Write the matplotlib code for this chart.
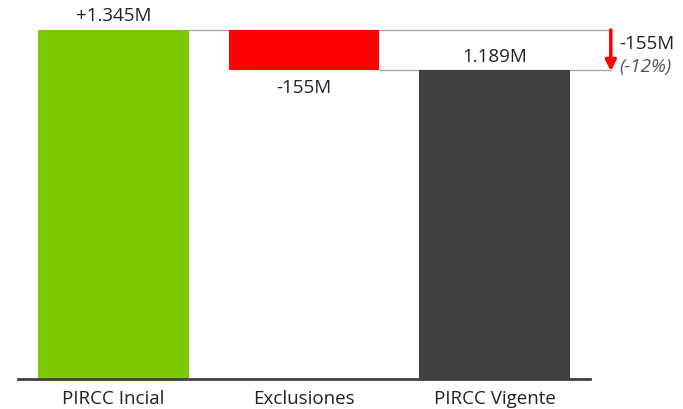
import matplotlib.pyplot as plt

# Data
categories = ["PIRCC Incial", "Exclusiones", "PIRCC Vigente"]
start_value = 1345
change = -155
end_value = 1189
top_labels = ["+1.345M", "-155M", "1.189M"]
delta_label = "-155M"
pct_label = "(-12%)"

plt.rcParams['font.family'] = ['Open Sans', 'DejaVu Sans']

fig = plt.figure(figsize=(6.83, 4.1), dpi=100)
ax = fig.add_axes([0, 0, 1, 1])
ax.set_xlim(-0.596, 2.989)
ax.set_ylim(-115.6, 1464.4)
ax.axis("off")

w = 0.79
ax.bar(0, start_value, width=w, color="#7DC900", zorder=2)
ax.bar(1, change, bottom=start_value, width=w, color="#FF0000", zorder=2)
ax.bar(2, end_value, width=w, color="#404040", zorder=2)

# connectors
ax.plot([0 + w / 2, 2.61], [start_value, start_value], color="#A8A8A8", lw=1, zorder=1)
ax.plot([1 + w / 2, 2.61], [end_value, end_value], color="#A8A8A8", lw=1, zorder=1)

# baseline
ax.plot([-0.5, 2.5], [0, 0], color="#404040", lw=2, zorder=3)

# delta arrow
ax.annotate("", xy=(2.61, end_value - 3), xytext=(2.61, start_value),
            arrowprops=dict(arrowstyle="-|>", color="#FF0000", lw=2.5,
                            mutation_scale=16, shrinkA=0, shrinkB=0))
ax.text(2.655, 1295, delta_label, fontsize=13.5, color="#222222", va="center", ha="left")
ax.text(2.655, 1206, pct_label, fontsize=13.5, color="#555555", style="italic",
        va="center", ha="left")

# value labels
ax.text(0, start_value + 58, top_labels[0], fontsize=13.5, color="#222222", ha="center", va="center")
ax.text(1, start_value + change - 65, top_labels[1], fontsize=13.5, color="#222222", ha="center", va="center")
ax.text(2, end_value + 56, top_labels[2], fontsize=13.5, color="#222222", ha="center", va="center")

for i, c in enumerate(categories):
    ax.text(i, -73, c, fontsize=13.5, color="#222222", ha="center", va="center")

fig.savefig("out.png", dpi=100)
